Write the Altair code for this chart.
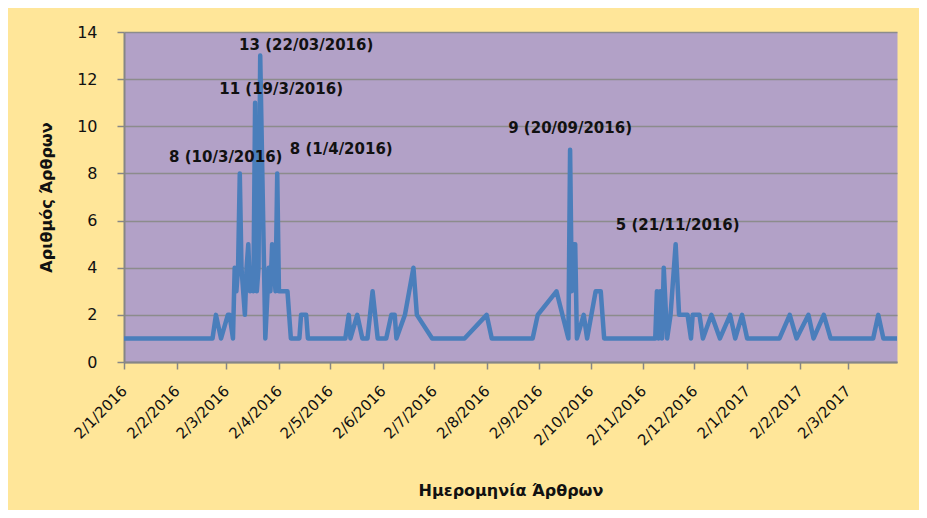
import altair as alt
import pandas as pd

# ---- data ----
dates = [
    "2016-01-02", "2016-02-23", "2016-02-25", "2016-02-28", "2016-03-03", "2016-03-04",
    "2016-03-06", "2016-03-07", "2016-03-08", "2016-03-09", "2016-03-10", "2016-03-11",
    "2016-03-12", "2016-03-13", "2016-03-14", "2016-03-15", "2016-03-16", "2016-03-17",
    "2016-03-18", "2016-03-19", "2016-03-20", "2016-03-21", "2016-03-22", "2016-03-25",
    "2016-03-27", "2016-03-28", "2016-03-29", "2016-03-30", "2016-03-31", "2016-04-01",
    "2016-04-02", "2016-04-07", "2016-04-08", "2016-04-09", "2016-04-14", "2016-04-15",
    "2016-04-18", "2016-04-19", "2016-05-11", "2016-05-13", "2016-05-14", "2016-05-18",
    "2016-05-21", "2016-05-24", "2016-05-27", "2016-05-30", "2016-06-04", "2016-06-07",
    "2016-06-09", "2016-06-10", "2016-06-15", "2016-06-20", "2016-06-22", "2016-07-01",
    "2016-07-20", "2016-08-02", "2016-08-05", "2016-08-29", "2016-09-01", "2016-09-12",
    "2016-09-19", "2016-09-20", "2016-09-21", "2016-09-22", "2016-09-23", "2016-09-24",
    "2016-09-28", "2016-09-30", "2016-10-05", "2016-10-08", "2016-10-10", "2016-11-09",
    "2016-11-10", "2016-11-11", "2016-11-12", "2016-11-13", "2016-11-14", "2016-11-16",
    "2016-11-18", "2016-11-21", "2016-11-23", "2016-11-28", "2016-11-30", "2016-12-01",
    "2016-12-05", "2016-12-07", "2016-12-12", "2016-12-17", "2016-12-23", "2016-12-26",
    "2016-12-30", "2017-01-02", "2017-01-21", "2017-01-27", "2017-01-31", "2017-02-07",
    "2017-02-10", "2017-02-16", "2017-02-20", "2017-03-17", "2017-03-20", "2017-03-23",
    "2017-03-31",
]
counts = [
    1, 1, 2, 1, 2, 2,
    1, 4, 3, 4, 8, 4,
    3, 2, 4, 5, 3, 4,
    3, 11, 3, 4, 13, 1,
    4, 3, 5, 4, 3, 8,
    3, 3, 2, 1, 1, 2,
    2, 1, 1, 2, 1, 2,
    1, 1, 3, 1, 1, 2,
    2, 1, 2, 4, 2, 1,
    1, 2, 1, 1, 2, 3,
    1, 9, 3, 5, 5, 1,
    2, 1, 3, 3, 1, 1,
    3, 1, 3, 1, 4, 1,
    2, 5, 2, 2, 1, 2,
    2, 1, 2, 1, 2, 1,
    2, 1, 1, 2, 1, 2,
    1, 2, 1, 1, 2, 1,
    1,
]

label_dates = ["2016-03-10", "2016-03-19", "2016-03-22", "2016-04-01", "2016-09-20", "2016-11-21"]
label_values = [8, 11, 13, 8, 9, 5]
label_texts = ["8 (10/3/2016)", "11 (19/3/2016)", "13 (22/03/2016)", "8 (1/4/2016)",
               "9 (20/09/2016)", "5 (21/11/2016)"]

tick_months = [(2016, m) for m in range(1, 13)] + [(2017, 1), (2017, 2), (2017, 3)]
y_ticks = [0, 2, 4, 6, 8, 10, 12, 14]

# ---- style ----
label_offsets = [(-14, -16), (26, -14), (46, -11), (64, -24), (0, -22), (2, -19)]
LINE = "#4A7EBB"
FONT = "DejaVu Sans"

df = pd.DataFrame({"date": dates, "count": counts})

x_enc = alt.X(
    "date:T",
    title="Ημερομηνία Άρθρων",
    scale=alt.Scale(type="utc",
                    domain=[alt.DateTime(year=2016, month=1, date=2, utc=True),
                            alt.DateTime(year=2017, month=3, date=31, utc=True)]),
    axis=alt.Axis(
        values=[alt.DateTime(year=y, month=m, date=2, utc=True) for y, m in tick_months],
        labelExpr="utcFormat(datum.value, '%-d/%-m/%Y')",
        labelAngle=-45, labelAlign="right", labelBaseline="middle",
        labelPadding=19, tickSize=7, grid=False, labelOverlap=False,
        titlePadding=34,
    ),
)
y_enc = alt.Y(
    "count:Q",
    title="Αριθμός Άρθρων",
    scale=alt.Scale(domain=[0, 14], nice=False),
    axis=alt.Axis(values=y_ticks, tickSize=7, labelPadding=20, labelFontSize=16,
                  grid=True, titlePadding=22),
)

line = alt.Chart(df).mark_line(color=LINE, strokeWidth=4.5, strokeJoin="round").encode(
    x=x_enc, y=y_enc
)

layers = [line]
for d, v, t, (dx, dy) in zip(label_dates, label_values, label_texts, label_offsets):
    ldf = pd.DataFrame({"date": [d], "count": [v], "text": [t]})
    layers.append(
        alt.Chart(ldf).mark_text(
            dx=dx, dy=dy, font=FONT, fontSize=15, fontWeight="bold", color="#111111",
            align="center", baseline="middle",
        ).encode(x="date:T", y="count:Q", text="text:N")
    )

chart = alt.layer(*layers).properties(
    width=773, height=330,
    padding={"left": 116, "top": 24, "right": 22, "bottom": 148},
    autosize=alt.AutoSizeParams(type="none"),
    background="#FFE699",
).configure_view(
    fill="#B2A1C7", stroke="transparent"
).configure_axis(
    domainColor="#868686", domainWidth=2, tickColor="#868686", tickWidth=1.5,
    gridColor="#8C8C8C", gridWidth=1.5,
    labelFont=FONT, labelFontSize=15, labelColor="#111111",
    titleFont=FONT, titleFontSize=16, titleFontWeight="bold", titleColor="#111111",
)

chart.save("out.html", embed_options={"renderer": "svg", "actions": False})
